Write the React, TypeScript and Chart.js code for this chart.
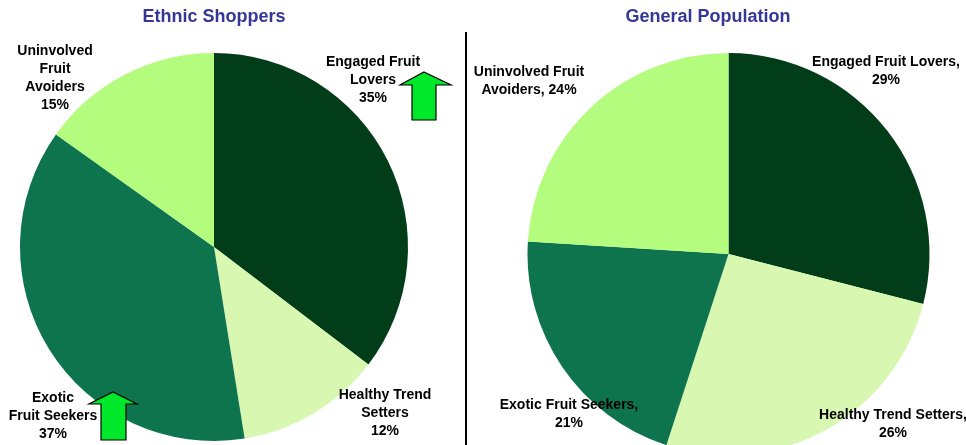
import React, { useEffect, useRef } from "react";
import { Chart, registerables } from "chart.js";

Chart.register(...registerables);

// ---------- data ----------
const segments = [
  "Engaged Fruit Lovers",
  "Healthy Trend Setters",
  "Exotic Fruit Seekers",
  "Uninvolved Fruit Avoiders",
];
const ethnicValues = [35, 12, 37, 15];
const generalValues = [29, 26, 21, 24];
const titles = ["Ethnic Shoppers", "General Population"];
const ethnicLabelLines = [
  ["Engaged Fruit", "Lovers", "{v}%"],
  ["Healthy Trend", "Setters", "{v}%"],
  ["Exotic", "Fruit Seekers", "{v}%"],
  ["Uninvolved", "Fruit", "Avoiders", "{v}%"],
];
const generalLabelLines = [
  ["Engaged Fruit Lovers,", "{v}%"],
  ["Healthy Trend Setters,", "{v}%"],
  ["Exotic Fruit Seekers,", "{v}%"],
  ["Uninvolved Fruit", "Avoiders, {v}%"],
];

// ---------- styles / layout ----------
const W = 966;
const H = 445;
const sliceColors = ["#013d18", "#d8f8b1", "#0d744e", "#b3fc7e"];
const titleColor = "#363696";
const FONT = "'Liberation Sans', Arial, Helvetica, sans-serif";
const LINE_H = 18;

const pies = [
  {
    cx: 214, cy: 247, r: 194,
    titleX: 214, titleY: 17,
    labelPos: [[373, 62], [385, 395], [53, 398], [55, 51]],
    arrows: [[424, 72, 400, 451, 85, 412, 436, 120], [113, 392, 89, 137, 404, 101, 126, 440]],
  },
  {
    cx: 728.5, cy: 254, r: 201,
    titleX: 708, titleY: 17,
    labelPos: [[886, 62], [893, 415], [569, 405], [529, 72]],
    arrows: [],
  },
];

function PieCanvas({ idx, values, lines }: { idx: number; values: number[]; lines: string[][] }) {
  const ref = useRef<HTMLCanvasElement | null>(null);
  useEffect(() => {
    const p = pies[idx];
    const e = Math.min(p.cx, W - p.cx, p.cy, H - p.cy);
    const annotate = {
      id: "annotate" + idx,
      afterDraw(chart: any) {
        const ctx = chart.ctx as CanvasRenderingContext2D;
        ctx.save();
        // title
        ctx.font = `bold 18px ${FONT}`;
        ctx.fillStyle = titleColor;
        ctx.textAlign = "center";
        ctx.textBaseline = "middle";
        ctx.fillText(titles[idx], p.titleX, p.titleY);
        // divider
        if (idx === 0) {
          ctx.fillStyle = "#000";
          ctx.fillRect(465, 32, 2, H - 32);
        }
        // labels
        ctx.font = `bold 14px ${FONT}`;
        ctx.fillStyle = "#000";
        lines.forEach((ls, i) => {
          const [x, y] = p.labelPos[i];
          ls.forEach((t, j) => {
            ctx.fillText(t.replace("{v}", String(values[i])), x, y + j * LINE_H);
          });
        });
        // arrows
        p.arrows.forEach(([tx, ty, hl, hr, hb, sl, sr, sb]) => {
          ctx.beginPath();
          ctx.moveTo(tx, ty);
          ctx.lineTo(hr, hb);
          ctx.lineTo(sr, hb);
          ctx.lineTo(sr, sb);
          ctx.lineTo(sl, sb);
          ctx.lineTo(sl, hb);
          ctx.lineTo(hl, hb);
          ctx.closePath();
          ctx.fillStyle = "#00e82a";
          ctx.fill();
          ctx.lineWidth = 1.2;
          ctx.strokeStyle = "#000";
          ctx.stroke();
        });
        ctx.restore();
      },
    };
    const chart = new Chart(ref.current as HTMLCanvasElement, {
      type: "pie",
      data: {
        labels: segments,
        datasets: [
          {
            data: values,
            backgroundColor: sliceColors,
            borderWidth: 0,
            hoverOffset: 0,
            clip: false,
          } as any,
        ],
      },
      options: {
        responsive: false,
        animation: false,
        radius: p.r,
        layout: {
          padding: { left: p.cx - e, right: W - p.cx - e, top: p.cy - e, bottom: H - p.cy - e },
        },
        plugins: { legend: { display: false }, title: { display: false }, tooltip: { enabled: false } },
        events: [],
      } as any,
      plugins: [annotate],
    });
    return () => chart.destroy();
  }, [idx, values, lines]);
  return (
    <canvas
      ref={ref}
      width={W}
      height={H}
      style={{ position: "absolute", left: 0, top: 0, width: W, height: H, display: "block" }}
    />
  );
}

export default function App() {
  useEffect(() => {
    document.body.style.margin = "0";
  }, []);
  return (
    <div style={{ position: "relative", width: W, height: H, overflow: "hidden", background: "#fff" }}>
      <PieCanvas idx={0} values={ethnicValues} lines={ethnicLabelLines} />
      <PieCanvas idx={1} values={generalValues} lines={generalLabelLines} />
    </div>
  );
}
